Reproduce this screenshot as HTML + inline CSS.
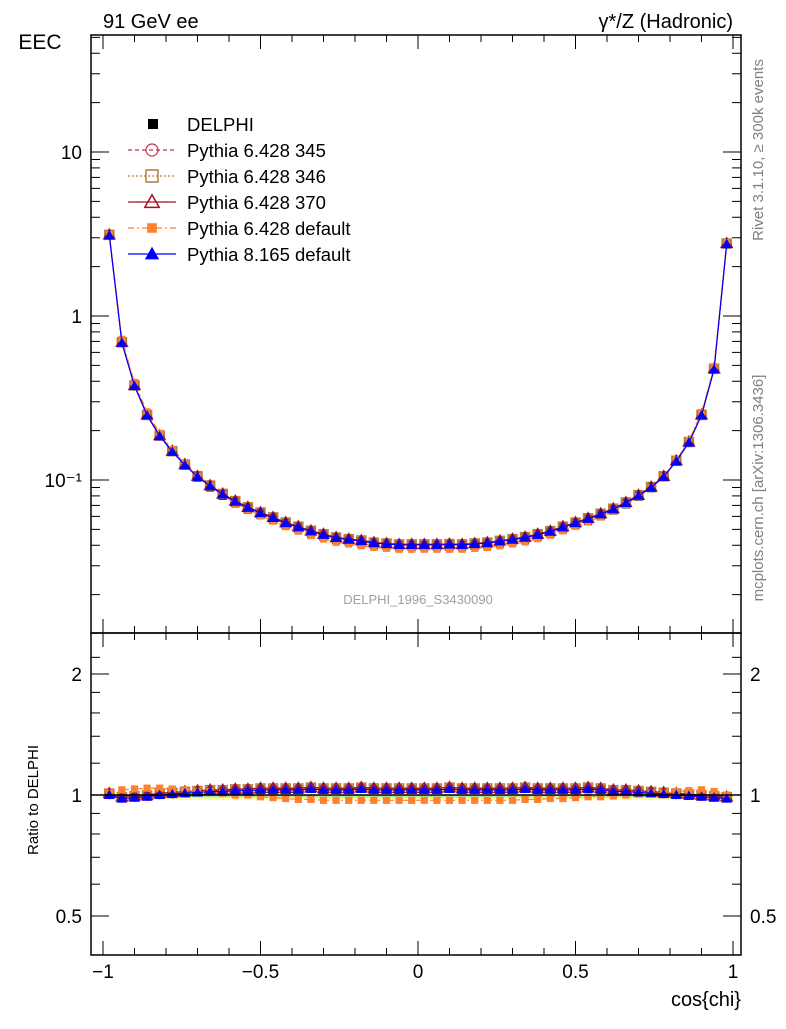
<!DOCTYPE html>
<html><head><meta charset="utf-8"><style>
body{margin:0;background:#fff}
svg text{font-family:"Liberation Sans",sans-serif}
</style></head><body>
<svg id="c" width="786" height="1024" xmlns="http://www.w3.org/2000/svg">
<rect width="786" height="1024" fill="#fff"/>
<g id="band"></g>
<g id="main"></g>
<g id="axes"></g>
<text x="103" y="28" font-size="20">91 GeV ee</text>
<text x="733" y="28" font-size="20" text-anchor="end">γ*/Z (Hadronic)</text>
<text x="40" y="49" font-size="21" text-anchor="middle">EEC</text>
<text x="38" y="800" font-size="15" text-anchor="middle" transform="rotate(-90 38 800)">Ratio to DELPHI</text>
<text x="741" y="1006" font-size="20" text-anchor="end">cos{chi}</text>
<text x="418" y="604" font-size="13" fill="#a0a0a0" text-anchor="middle">DELPHI_1996_S3430090</text>
<text x="763" y="150" font-size="15" fill="#808080" text-anchor="middle" transform="rotate(-90 763 150)">Rivet 3.1.10, ≥ 300k events</text>
<text x="763" y="488" font-size="15" fill="#808080" text-anchor="middle" transform="rotate(-90 763 488)">mcplots.cern.ch [arXiv:1306.3436]</text>
<g id="legend"></g>
</svg>
<script>
const centers=[];for(let i=0;i<50;i++)centers.push(-0.98+0.04*i);
const eecLeft=[3.1,0.70,0.38,0.25,0.185,0.148,0.122,0.103,0.09,0.08,0.072,0.066,0.061,0.057,0.053,0.050,0.047,0.045,0.043,0.042,0.041,0.040,0.0395,0.039,0.039];
const eecRight=[0.039,0.039,0.039,0.039,0.0395,0.040,0.041,0.042,0.043,0.045,0.047,0.050,0.053,0.056,0.060,0.065,0.071,0.079,0.089,0.104,0.13,0.17,0.25,0.48,2.8];
const delphi=eecLeft.concat(eecRight);
const ratioP8=[1.0,0.98,0.985,0.99,1.0,1.005,1.01,1.015,1.02,1.02,1.025,1.025,1.03,1.03,1.03,1.03,1.035,1.03,1.03,1.03,1.035,1.03,1.03,1.03,1.03,1.03,1.03,1.035,1.03,1.03,1.03,1.03,1.03,1.035,1.03,1.03,1.03,1.03,1.035,1.03,1.02,1.02,1.015,1.01,1.005,1.0,0.995,0.99,0.985,0.98];
const ratioP6def=[1.01,1.03,1.035,1.04,1.04,1.035,1.03,1.02,1.02,1.01,1.0,1.0,0.99,0.985,0.98,0.975,0.975,0.97,0.97,0.97,0.97,0.97,0.97,0.97,0.97,0.97,0.97,0.97,0.97,0.97,0.97,0.97,0.97,0.975,0.975,0.98,0.98,0.985,0.99,0.99,0.995,1.0,1.005,1.01,1.01,1.02,1.025,1.03,1.02,1.0];
const ratio370=ratioP8.map(v=>v+0.01);
const ratio345=ratioP8.map(v=>v+0.005);
const ratio346=ratioP8.map(v=>v+0.008);
const xTicks=[-1,-0.5,0,0.5,1];
const xTickLabels=["−1","−0.5","0","0.5","1"];
const yDecades=[0.1,1,10];const yDecadeLabels=["10\u207B\u00B9","1","10"];
const rTicks=[0.5,1,2];const rTickLabels=["0.5","1","2"];
const NS="http://www.w3.org/2000/svg";
const X=v=>418+315*v;
const Y=v=>316-164*Math.log10(v);
const R=v=>795-402*Math.log10(v);
function el(p,t,a){const e=document.createElementNS(NS,t);for(const k in a)e.setAttribute(k,a[k]);p.appendChild(e);return e;}
const axes=document.getElementById('axes'),main=document.getElementById('main'),band=document.getElementById('band');
let f1=el(axes,'rect',{x:91,y:35,width:650,height:598,fill:'none',stroke:'#000','stroke-width':1.5});

let f2=el(axes,'rect',{x:91,y:633,width:650,height:322,fill:'none',stroke:'#000','stroke-width':1.5});

for(let v=-1;v<=1.0001;v+=0.1){const x=X(v);const maj=Math.abs(v*2-Math.round(v*2))<1e-6;const L=maj?14:7;
 [[35,1],[633,-1],[633,1],[955,-1]].forEach(([y0,d])=>el(axes,'line',{x1:x,x2:x,y1:y0,y2:y0+d*L,stroke:'#000'}));}
xTicks.forEach((v,i)=>{const t=el(axes,'text',{x:X(v),y:978,'font-size':19,'text-anchor':'middle'});t.textContent=xTickLabels[i];
 });
for(let d=-2;d<=1;d++)for(let m=1;m<10;m++){const v=m*Math.pow(10,d);const y=Y(v);if(y<35||y>633)continue;const L=m==1?18:9;
 el(axes,'line',{x1:91,x2:91+L,y1:y,y2:y,stroke:'#000'});el(axes,'line',{x1:741,x2:741-L,y1:y,y2:y,stroke:'#000'});}
yDecades.forEach((v,i)=>{const t=el(axes,'text',{x:82,y:Y(v)+7,'font-size':19,'text-anchor':'end'});t.textContent=yDecadeLabels[i];
 });
[0.4,0.5,0.6,0.7,0.8,0.9,1,1.2,1.4,1.6,1.8,2,2.2].forEach(v=>{const y=R(v);if(y<633||y>955)return;const maj=(v==0.5||v==1||v==2);const L=maj?18:9;
 el(axes,'line',{x1:91,x2:91+L,y1:y,y2:y,stroke:'#000'});el(axes,'line',{x1:741,x2:741-L,y1:y,y2:y,stroke:'#000'});});
rTicks.forEach((v,i)=>{let t=el(axes,'text',{x:82,y:R(v)+7,'font-size':19,'text-anchor':'end'});t.textContent=rTickLabels[i];
 
 t=el(axes,'text',{x:750,y:R(v)+7,'font-size':19});t.textContent=rTickLabels[i];
 });
centers.forEach((c,i)=>{const x0=X(c-0.02),w=12.6;
 el(band,'rect',{x:x0,y:R(1.0),width:w,height:R(0.972)-R(1.0),fill:'#ffff99'});
 el(band,'rect',{x:x0,y:R(1.0),width:w,height:R(0.985)-R(1.0),fill:'#a6f0a0'});});
el(axes,'line',{x1:91,x2:741,y1:R(1),y2:R(1),stroke:'#000','stroke-width':1.5});
const series=[
 {name:'p6-345',ratio:ratio345,color:'#c0304a',dash:'4,3',mk:'circle'},
 {name:'p6-346',ratio:ratio346,color:'#b08040',dash:'2,2',mk:'osq'},
 {name:'p6-370',ratio:ratio370,color:'#a0101e',dash:'',mk:'otri'},
 {name:'p6-default',ratio:ratioP6def,color:'#ff8030',dash:'6,3,2,3',mk:'sq'},
 {name:'p8-default',ratio:ratioP8,color:'#0000ff',dash:'',mk:'tri'}];
function marker(g,mk,x,y,c,s){
 if(mk=='circle')return el(g,'circle',{cx:x,cy:y,r:s*0.5,fill:'none',stroke:c,'stroke-width':1.2});
 if(mk=='osq')return el(g,'rect',{x:x-s/2,y:y-s/2,width:s,height:s,fill:'none',stroke:c,'stroke-width':1.5});
 if(mk=='sq')return el(g,'rect',{x:x-s*0.4,y:y-s*0.4,width:s*0.8,height:s*0.8,fill:c});
 const p=`${x},${y-s*0.6} ${x-s*0.6},${y+s*0.45} ${x+s*0.6},${y+s*0.45}`;
 if(mk=='otri')return el(g,'polygon',{points:p,fill:'none',stroke:c,'stroke-width':1.5});
 return el(g,'polygon',{points:p,fill:c});}
delphi.forEach((v,i)=>{const m=el(main,'rect',{x:X(centers[i])-4,y:Y(v)-4,width:8,height:8,fill:'#000'});
 });
series.forEach(s=>{
 const g=el(main,'g',{});
 el(g,'polyline',{points:centers.map((c,i)=>X(c)+','+Y(delphi[i]*s.ratio[i])).join(' '),fill:'none',stroke:s.color,'stroke-width':1.2,'stroke-dasharray':s.dash});
 centers.forEach((c,i)=>marker(g,s.mk,X(c),Y(delphi[i]*s.ratio[i]),s.color,9));
 const gr=el(main,'g',{});
 el(gr,'polyline',{points:centers.map((c,i)=>X(c)+','+R(s.ratio[i])).join(' '),fill:'none',stroke:s.color,'stroke-width':1.2,'stroke-dasharray':s.dash});
 centers.forEach((c,i)=>marker(gr,s.mk,X(c),R(s.ratio[i]),s.color,9));
});
const lg=document.getElementById('legend');
const labels=['DELPHI','Pythia 6.428 345','Pythia 6.428 346','Pythia 6.428 370','Pythia 6.428 default','Pythia 8.165 default'];
labels.forEach((t,i)=>{const y=124+26*i;
 const g=el(lg,'g',{});
 if(i==0)el(g,'rect',{x:148,y:y-5,width:10,height:10,fill:'#000'});
 else{const s=series[i-1];el(g,'line',{x1:128,x2:176,y1:y,y2:y,stroke:s.color,'stroke-width':1.2,'stroke-dasharray':s.dash});
  marker(g,s.mk,152,y,s.color,12);}
 const tx=el(g,'text',{x:187,y:y+7,'font-size':18.5});tx.textContent=t;});
</script>
</body></html>
